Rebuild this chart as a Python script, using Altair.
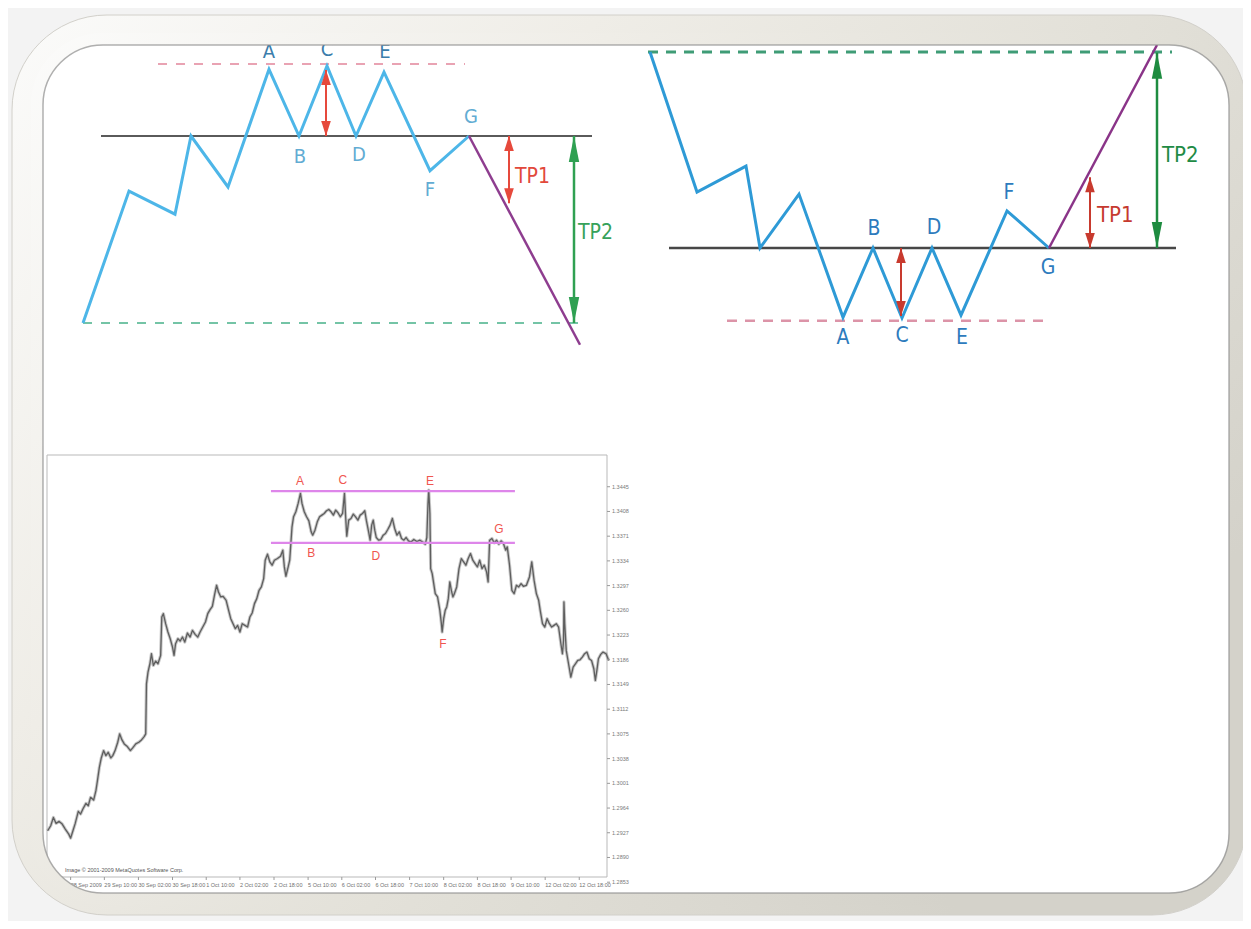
import altair as alt
import pandas as pd

# ---------------- triple top schematic (top left) ----------------
top_x = [0, 9.2, 18.4, 21.6, 29, 37.2, 43.2, 48.8, 54.6, 60.2, 69.4, 77.2]
top_y = [-2.75, -0.81, -1.15, 0, -0.75, 0.98, 0, 1.03, 0, 0.94, -0.51, 0]
top_break_x = [77.2, 99.4]
top_break_y = [0, -3.07]
top_hi_labels = ["A", "C", "E"]
top_hi_x = [37.2, 48.8, 60.4]
top_hi_y = [1.24, 1.27, 1.24]
top_lo_labels = ["B", "D", "F", "G"]
top_lo_x = [43.4, 55.2, 69.4, 77.6]
top_lo_y = [-0.31, -0.28, -0.79, 0.28]
top_neck = [3.6, 101.8, 0]          # x from, x to, level
top_resist = [15, 76.4, 1.06]
top_target = [0, 100.8, -2.75]
top_red_x = [48.6, 85.2]
top_red_lo = [0, -0.99]
top_red_hi = [0.97, 0]
top_green_x = [98.2]
top_green_lo = [-2.75]
top_green_hi = [0]
top_tp_text = ["TP1", "TP2"]
top_tp_x = [86.4, 99.0]
top_tp_y = [-0.6, -1.43]

# ---------------- triple bottom schematic (top right) ----------------
bot_x = [0, 9.4, 19.2, 22, 29.8, 38.6, 44.6, 50.4, 56.4, 62.2, 71.4, 79.8]
bot_y = [2.8, 0.8, 1.17, 0, 0.77, -0.99, 0, -1.0, 0, -0.96, 0.53, 0]
bot_break_x = [79.8, 101.4]
bot_break_y = [0, 2.9]
bot_labels = ["A", "C", "E", "B", "D", "F", "G"]
bot_lab_x = [38.6, 50.4, 62.4, 44.8, 56.8, 71.8, 79.6]
bot_lab_y = [-1.29, -1.26, -1.29, 0.27, 0.29, 0.79, -0.29]
bot_neck = [3.8, 105.2, 0]
bot_support = [15.4, 78.8, -1.04]
bot_target = [-0.4, 104.4, 2.8]
bot_red_x = [50.2, 88]
bot_red_lo = [-0.97, 0]
bot_red_hi = [0, 1.01]
bot_green_x = [101.4]
bot_green_lo = [0]
bot_green_hi = [2.79]
bot_tp_text = ["TP1", "TP2"]
bot_tp_x = [89.4, 102.4]
bot_tp_y = [0.47, 1.33]

# ---------------- price chart (bottom left) ----------------
price_path = [
    (20, 1.2930), (28, 1.29375), (35, 1.2950), (42, 1.2941), (50, 1.2944), (58, 1.2940), (66, 1.29325), (75, 1.2925), (80, 1.2919), (86, 1.2930),
    (92, 1.2941), (100, 1.2959), (106, 1.2955), (112, 1.29625), (120, 1.2971), (126, 1.29675), (132, 1.2980), (140, 1.2976), (146, 1.2990), (150, 1.3005),
    (155, 1.3025), (160, 1.3039), (166, 1.3050), (172, 1.30425), (178, 1.30475), (185, 1.3039), (190, 1.30425), (196, 1.3050), (203, 1.30625), (208, 1.3075),
    (214, 1.3066), (220, 1.3060), (228, 1.3056), (236, 1.3050), (242, 1.3054), (250, 1.3060), (258, 1.30625), (265, 1.3066), (272, 1.3071), (276, 1.3075),
    (278, 1.3150), (282, 1.31675), (287, 1.3180), (291, 1.3195), (296, 1.31775), (302, 1.3184), (308, 1.3180), (315, 1.31925), (318, 1.3250), (322, 1.3255),
    (328, 1.3240), (334, 1.32275), (340, 1.32175), (346, 1.3205), (350, 1.31925), (354, 1.3210), (360, 1.32175), (366, 1.3214), (372, 1.3220), (378, 1.32125),
    (385, 1.3226), (392, 1.3220), (398, 1.3230), (405, 1.3224), (412, 1.3220), (418, 1.32275), (425, 1.3235), (432, 1.32425), (438, 1.3255), (444, 1.3261),
    (450, 1.3266), (456, 1.3284), (461, 1.32975), (466, 1.32875), (472, 1.3280), (478, 1.3281), (486, 1.3275), (492, 1.3261), (498, 1.32475), (504, 1.3240),
    (510, 1.32325), (516, 1.32375), (522, 1.32275), (528, 1.3240), (535, 1.32375), (542, 1.3235), (548, 1.3250), (554, 1.3256), (560, 1.3270), (566, 1.32775),
    (572, 1.3290), (578, 1.3295), (584, 1.33075), (588, 1.3335), (594, 1.3344), (600, 1.33325), (606, 1.33275), (612, 1.3335), (620, 1.33375), (628, 1.3341),
    (634, 1.3350), (638, 1.3325), (642, 1.3311), (648, 1.3325), (652, 1.3335), (655, 1.3360), (658, 1.3385), (662, 1.3400), (668, 1.34075), (674, 1.3420),
    (680, 1.3435), (684, 1.3420), (690, 1.34075), (696, 1.3400), (702, 1.3394), (708, 1.33775), (712, 1.33725), (718, 1.3380), (724, 1.33925), (730, 1.3400),
    (736, 1.34025), (742, 1.3405), (748, 1.3409), (754, 1.3411), (760, 1.34075), (766, 1.34025), (772, 1.3410), (778, 1.3406), (784, 1.3400), (790, 1.3405),
    (795, 1.3435), (798, 1.3400), (801, 1.3371), (806, 1.3395), (812, 1.33975), (818, 1.3404), (824, 1.3400), (830, 1.3395), (836, 1.34025), (842, 1.3405),
    (848, 1.3409), (852, 1.3395), (858, 1.33775), (862, 1.3365), (866, 1.33875), (870, 1.3395), (874, 1.3380), (878, 1.3369), (884, 1.3365), (890, 1.3366),
    (896, 1.33725), (902, 1.3375), (908, 1.3381), (914, 1.33875), (920, 1.33975), (926, 1.33825), (932, 1.33725), (938, 1.33775), (944, 1.33675), (950, 1.3365),
    (956, 1.3369), (962, 1.3364), (968, 1.3362), (976, 1.3366), (984, 1.3363), (992, 1.3365), (1000, 1.3362), (1006, 1.3359), (1010, 1.3369), (1013, 1.3420),
    (1015, 1.3440), (1018, 1.3405), (1020, 1.33225), (1024, 1.3315), (1028, 1.3300), (1032, 1.3285), (1038, 1.3280), (1044, 1.3260), (1048, 1.3240), (1050, 1.32275),
    (1054, 1.32475), (1058, 1.3260), (1062, 1.3265), (1066, 1.32775), (1070, 1.33025), (1074, 1.3290), (1078, 1.3280), (1082, 1.3285), (1088, 1.3295), (1094, 1.33225),
    (1100, 1.33375), (1106, 1.33325), (1112, 1.33275), (1118, 1.33375), (1124, 1.3345), (1130, 1.3335), (1136, 1.3330), (1142, 1.3325), (1148, 1.3335), (1154, 1.33225),
    (1160, 1.33275), (1166, 1.33175), (1170, 1.33025), (1174, 1.3365), (1180, 1.33675), (1186, 1.3361), (1192, 1.3365), (1198, 1.3359), (1204, 1.3364), (1210, 1.3360),
    (1216, 1.3350), (1220, 1.3355), (1226, 1.33275), (1232, 1.3290), (1238, 1.3285), (1244, 1.32975), (1250, 1.3295), (1256, 1.3300), (1262, 1.3296), (1270, 1.32975),
    (1278, 1.3310), (1284, 1.33325), (1290, 1.3305), (1296, 1.3285), (1302, 1.3275), (1306, 1.3260), (1312, 1.3240), (1318, 1.3235), (1324, 1.32475), (1330, 1.3240),
    (1336, 1.3235), (1342, 1.32375), (1348, 1.3240), (1354, 1.3235), (1360, 1.3210), (1364, 1.3195), (1367, 1.3215), (1368, 1.32725), (1370, 1.3240), (1374, 1.3200),
    (1380, 1.3180), (1386, 1.3160), (1392, 1.3175), (1398, 1.3180), (1404, 1.3185), (1410, 1.3186), (1416, 1.3190), (1422, 1.3195), (1428, 1.31975), (1434, 1.31875),
    (1440, 1.3185), (1446, 1.31725), (1450, 1.3155), (1454, 1.3170), (1458, 1.31875), (1464, 1.3194), (1470, 1.31975), (1478, 1.3195), (1485, 1.3185),
]
price_levels = [1.34385, 1.3361]
price_level_from = [603, 603]
price_level_to = [1240, 1240]
price_labels = ["A", "C", "E", "B", "D", "F", "G"]
price_label_t = [679, 791, 1018, 708, 877, 1052, 1198]
price_label_p = [1.34535, 1.3455, 1.34535, 1.3346, 1.33415, 1.32095, 1.33815]
axis_prices = [1.3445, 1.3408, 1.3371, 1.3334, 1.3297, 1.3260, 1.3223, 1.3186, 1.3149,
               1.3112, 1.3075, 1.3038, 1.3001, 1.2964, 1.2927, 1.2890, 1.2853]
date_t = [80, 168, 257, 346, 434, 522, 611, 700, 788, 876, 965, 1054, 1142, 1230, 1319, 1408]
date_text = ["28 Sep 2009", "29 Sep 10:00", "30 Sep 02:00", "30 Sep 18:00", "1 Oct 10:00",
             "2 Oct 02:00", "2 Oct 18:00", "5 Oct 10:00", "6 Oct 02:00", "6 Oct 18:00",
             "7 Oct 10:00", "8 Oct 02:00", "8 Oct 18:00", "9 Oct 10:00", "12 Oct 02:00", "12 Oct 18:00"]
copyright_text = "Image © 2001-2009 MetaQuotes Software Corp."

FONT = "DejaVu Sans Condensed, Liberation Sans Narrow, Liberation Sans, sans-serif"
SMALL = "Liberation Sans, Arial, sans-serif"
ONE = pd.DataFrame({"k": [0]})


def sc(dom, rng):
    return alt.Scale(domain=dom, range=rng, nice=False, zero=False)


def panel(xs, ys, parts):
    return alt.layer(*[p(xs, ys) for p in parts])


def line_part(xv, yv, color, width):
    df = pd.DataFrame({"x": xv, "y": yv, "i": list(range(len(xv)))})

    def f(xs, ys):
        return alt.Chart(df).mark_line(color=color, strokeWidth=width, strokeJoin="miter").encode(
            x=alt.X("x:Q", scale=xs, axis=None), y=alt.Y("y:Q", scale=ys, axis=None), order="i:Q")
    return f


def hline_part(spec, color, width, dash=None):
    df = pd.DataFrame({"x0": [spec[0]], "x1": [spec[1]], "y": [spec[2]]})
    kw = dict(color=color, strokeWidth=width)
    if dash:
        kw["strokeDash"] = dash

    def f(xs, ys):
        return alt.Chart(df).mark_rule(**kw).encode(
            x=alt.X("x0:Q", scale=xs, axis=None), x2="x1:Q", y=alt.Y("y:Q", scale=ys, axis=None))
    return f


def arrow_parts(xv, lo, hi, color, width, size, ratio):
    df = pd.DataFrame({"x": xv, "lo": lo, "hi": hi})
    up = f"M0,0L{-ratio},1L{ratio},1Z"
    down = f"M0,0L{-ratio},-1L{ratio},-1Z"

    def r(xs, ys):
        return alt.Chart(df).mark_rule(color=color, strokeWidth=width).encode(
            x=alt.X("x:Q", scale=xs, axis=None), y=alt.Y("lo:Q", scale=ys, axis=None), y2="hi:Q")

    def h1(xs, ys):
        return alt.Chart(df).mark_point(shape=up, size=size, filled=True, color=color, opacity=1, strokeWidth=0).encode(
            x=alt.X("x:Q", scale=xs, axis=None), y=alt.Y("hi:Q", scale=ys, axis=None))

    def h2(xs, ys):
        return alt.Chart(df).mark_point(shape=down, size=size, filled=True, color=color, opacity=1, strokeWidth=0).encode(
            x=alt.X("x:Q", scale=xs, axis=None), y=alt.Y("lo:Q", scale=ys, axis=None))
    return [r, h1, h2]


def text_part(labels, xv, yv, color, size, align="center", font=FONT):
    df = pd.DataFrame({"t": labels, "x": xv, "y": yv})

    def f(xs, ys):
        return alt.Chart(df).mark_text(color=color, fontSize=size, font=font, align=align, baseline="middle").encode(
            x=alt.X("x:Q", scale=xs, axis=None), y=alt.Y("y:Q", scale=ys, axis=None), text="t:N")
    return f


# ---------------- panel: triple top ----------------
tl_x = sc([0, 100], [75, 575])
tl_y = sc([0, 1], [128, 60])
top_panel = panel(tl_x, tl_y, [
    hline_part(top_resist, "#e9a3b3", 2, [9, 9]),
    hline_part(top_target, "#74c4a6", 2, [9, 9]),
    hline_part(top_neck, "#5a5a5a", 2),
    line_part(top_x, top_y, "#4db6e8", 3),
    line_part(top_break_x, top_break_y, "#8e3d8f", 2.5),
    *arrow_parts(top_red_x, top_red_lo, top_red_hi, "#e6493c", 2, 900, 0.32),
    *arrow_parts(top_green_x, top_green_lo, top_green_hi, "#2fa052", 2.5, 2700, 0.2),
    text_part(top_hi_labels, top_hi_x, top_hi_y, "#3b7dab", 20),
    text_part(top_lo_labels, top_lo_x, top_lo_y, "#62acd3", 20),
    text_part(top_tp_text[:1], top_tp_x[:1], top_tp_y[:1], "#e2483b", 21, "left"),
    text_part(top_tp_text[1:], top_tp_x[1:], top_tp_y[1:], "#36a25a", 21, "left"),
])

# ---------------- panel: triple bottom ----------------
tr_x = sc([0, 100], [642, 1142])
tr_y = sc([0, 1], [240, 170])
bot_panel = panel(tr_x, tr_y, [
    hline_part(bot_support, "#dc94a8", 2.5, [10, 8]),
    hline_part(bot_target, "#3f9c76", 3, [10, 8]),
    hline_part(bot_neck, "#474747", 2.5),
    line_part(bot_x, bot_y, "#2e9ad6", 3),
    line_part(bot_break_x, bot_break_y, "#8a3488", 2.5),
    *arrow_parts(bot_red_x, bot_red_lo, bot_red_hi, "#c83a2e", 2, 900, 0.32),
    *arrow_parts(bot_green_x, bot_green_lo, bot_green_hi, "#1e8c40", 2.5, 2700, 0.2),
    text_part(bot_labels, bot_lab_x, bot_lab_y, "#2d7bbd", 21),
    text_part(bot_tp_text[:1], bot_tp_x[:1], bot_tp_y[:1], "#c63a2f", 22, "left"),
    text_part(bot_tp_text[1:], bot_tp_x[1:], bot_tp_y[1:], "#1f8b45", 22, "left"),
])

# ---------------- panel: price chart ----------------
px = sc([0, 1500], [32, 606.5])
py = sc([1.28, 1.35], [909.6, 442])
price_df = pd.DataFrame({"t": [a for a, b in price_path], "p": [b for a, b in price_path],
                         "i": list(range(len(price_path)))})
levels_df = pd.DataFrame({"t0": price_level_from, "t1": price_level_to, "p": price_levels})
plab_df = pd.DataFrame({"s": price_labels, "t": price_label_t, "p": price_label_p})
axis_df = pd.DataFrame({"p": axis_prices})
date_df = pd.DataFrame({"t": date_t, "s": date_text})

plot_border = alt.Chart(ONE).mark_rect(fillOpacity=0, stroke="#b9b9b9", strokeWidth=1).encode(
    x=alt.value(39), x2=alt.value(599), y=alt.value(447), y2=alt.value(869))
price_halo = alt.Chart(price_df).mark_line(color="#9a9a9a", strokeWidth=3.2, strokeJoin="round", opacity=0.55).encode(
    x=alt.X("t:Q", scale=px, axis=None), y=alt.Y("p:Q", scale=py, axis=None), order="i:Q")
price_line = alt.Chart(price_df).mark_line(color="#5e5e5e", strokeWidth=1.3, strokeJoin="round").encode(
    x=alt.X("t:Q", scale=px, axis=None), y=alt.Y("p:Q", scale=py, axis=None), order="i:Q")
levels = alt.Chart(levels_df).mark_rule(color="#de86ea", strokeWidth=2.2).encode(
    x=alt.X("t0:Q", scale=px, axis=None), x2="t1:Q", y=alt.Y("p:Q", scale=py, axis=None))
plabels = alt.Chart(plab_df).mark_text(color="#f0564f", fontSize=12, font=SMALL, baseline="middle").encode(
    x=alt.X("t:Q", scale=px, axis=None), y=alt.Y("p:Q", scale=py, axis=None), text="s:N")
yticks = alt.Chart(axis_df).mark_rule(color="#9a9a9a", strokeWidth=1).encode(
    x=alt.value(599), x2=alt.value(602), y=alt.Y("p:Q", scale=py, axis=None))
ylabels = alt.Chart(axis_df).mark_text(color="#7a7a7a", fontSize=5.5, align="left", baseline="middle",
                                       font=SMALL).encode(
    x=alt.value(604), y=alt.Y("p:Q", scale=py, axis=None), text=alt.Text("p:Q", format=".4f"))
xticks = alt.Chart(date_df).mark_rule(color="#9a9a9a", strokeWidth=1).encode(
    x=alt.X("t:Q", scale=px, axis=None), y=alt.value(869), y2=alt.value(872))
xlabels = alt.Chart(date_df).mark_text(color="#6f6f6f", fontSize=5.5, align="left", baseline="middle",
                                       font=SMALL).encode(
    x=alt.X("t:Q", scale=px, axis=None), y=alt.value(877), text="s:N")
copyright = alt.Chart(pd.DataFrame({"s": [copyright_text]})).mark_text(
    color="#555555", fontSize=5.5, align="left", baseline="middle", font=SMALL).encode(
    x=alt.value(57), y=alt.value(862), text="s:N")
price_panel = alt.layer(plot_border, price_halo, price_line, levels, plabels, yticks, ylabels,
                        xticks, xlabels, copyright)

# ---------------- slide frame ----------------
grad = alt.LinearGradient(gradient="linear", x1=0, y1=0, x2=1, y2=0.6, stops=[
    alt.GradientStop(color="#fbfbfa", offset=0),
    alt.GradientStop(color="#efede7", offset=0.35),
    alt.GradientStop(color="#e3e1d9", offset=0.65),
    alt.GradientStop(color="#d4d2ca", offset=1),
])
frame_base = alt.Chart(ONE).mark_rect(fill=grad, stroke="#d2d0ca", strokeWidth=1, cornerRadius=95).encode(
    x=alt.value(4), x2=alt.value(1239), y=alt.value(7), y2=alt.value(907))
frame_inner = alt.Chart(ONE).mark_rect(fill="#ffffff", cornerRadius=60).encode(
    x=alt.value(35), x2=alt.value(1221), y=alt.value(37), y2=alt.value(885))
frame_cover = alt.Chart(ONE).mark_rect(fillOpacity=0, stroke=grad, strokeWidth=12, cornerRadius=66).encode(
    x=alt.value(29), x2=alt.value(1227), y=alt.value(31), y2=alt.value(891))
frame_edge = alt.Chart(ONE).mark_rect(fillOpacity=0, stroke="#8f8f8f", strokeOpacity=0.7, strokeWidth=1.5,
                                      cornerRadius=60).encode(
    x=alt.value(35), x2=alt.value(1221), y=alt.value(37), y2=alt.value(885))

chart = alt.layer(
    frame_base, frame_inner, price_panel, top_panel, bot_panel, frame_cover, frame_edge
).resolve_scale(x="independent", y="independent").properties(
    width=1235, height=913, autosize=alt.AutoSizeParams(type="none"), padding=0, background="#f3f3f3"
).configure_view(stroke=None)

chart.save("out.html", embed_options={"renderer": "svg", "actions": False})
